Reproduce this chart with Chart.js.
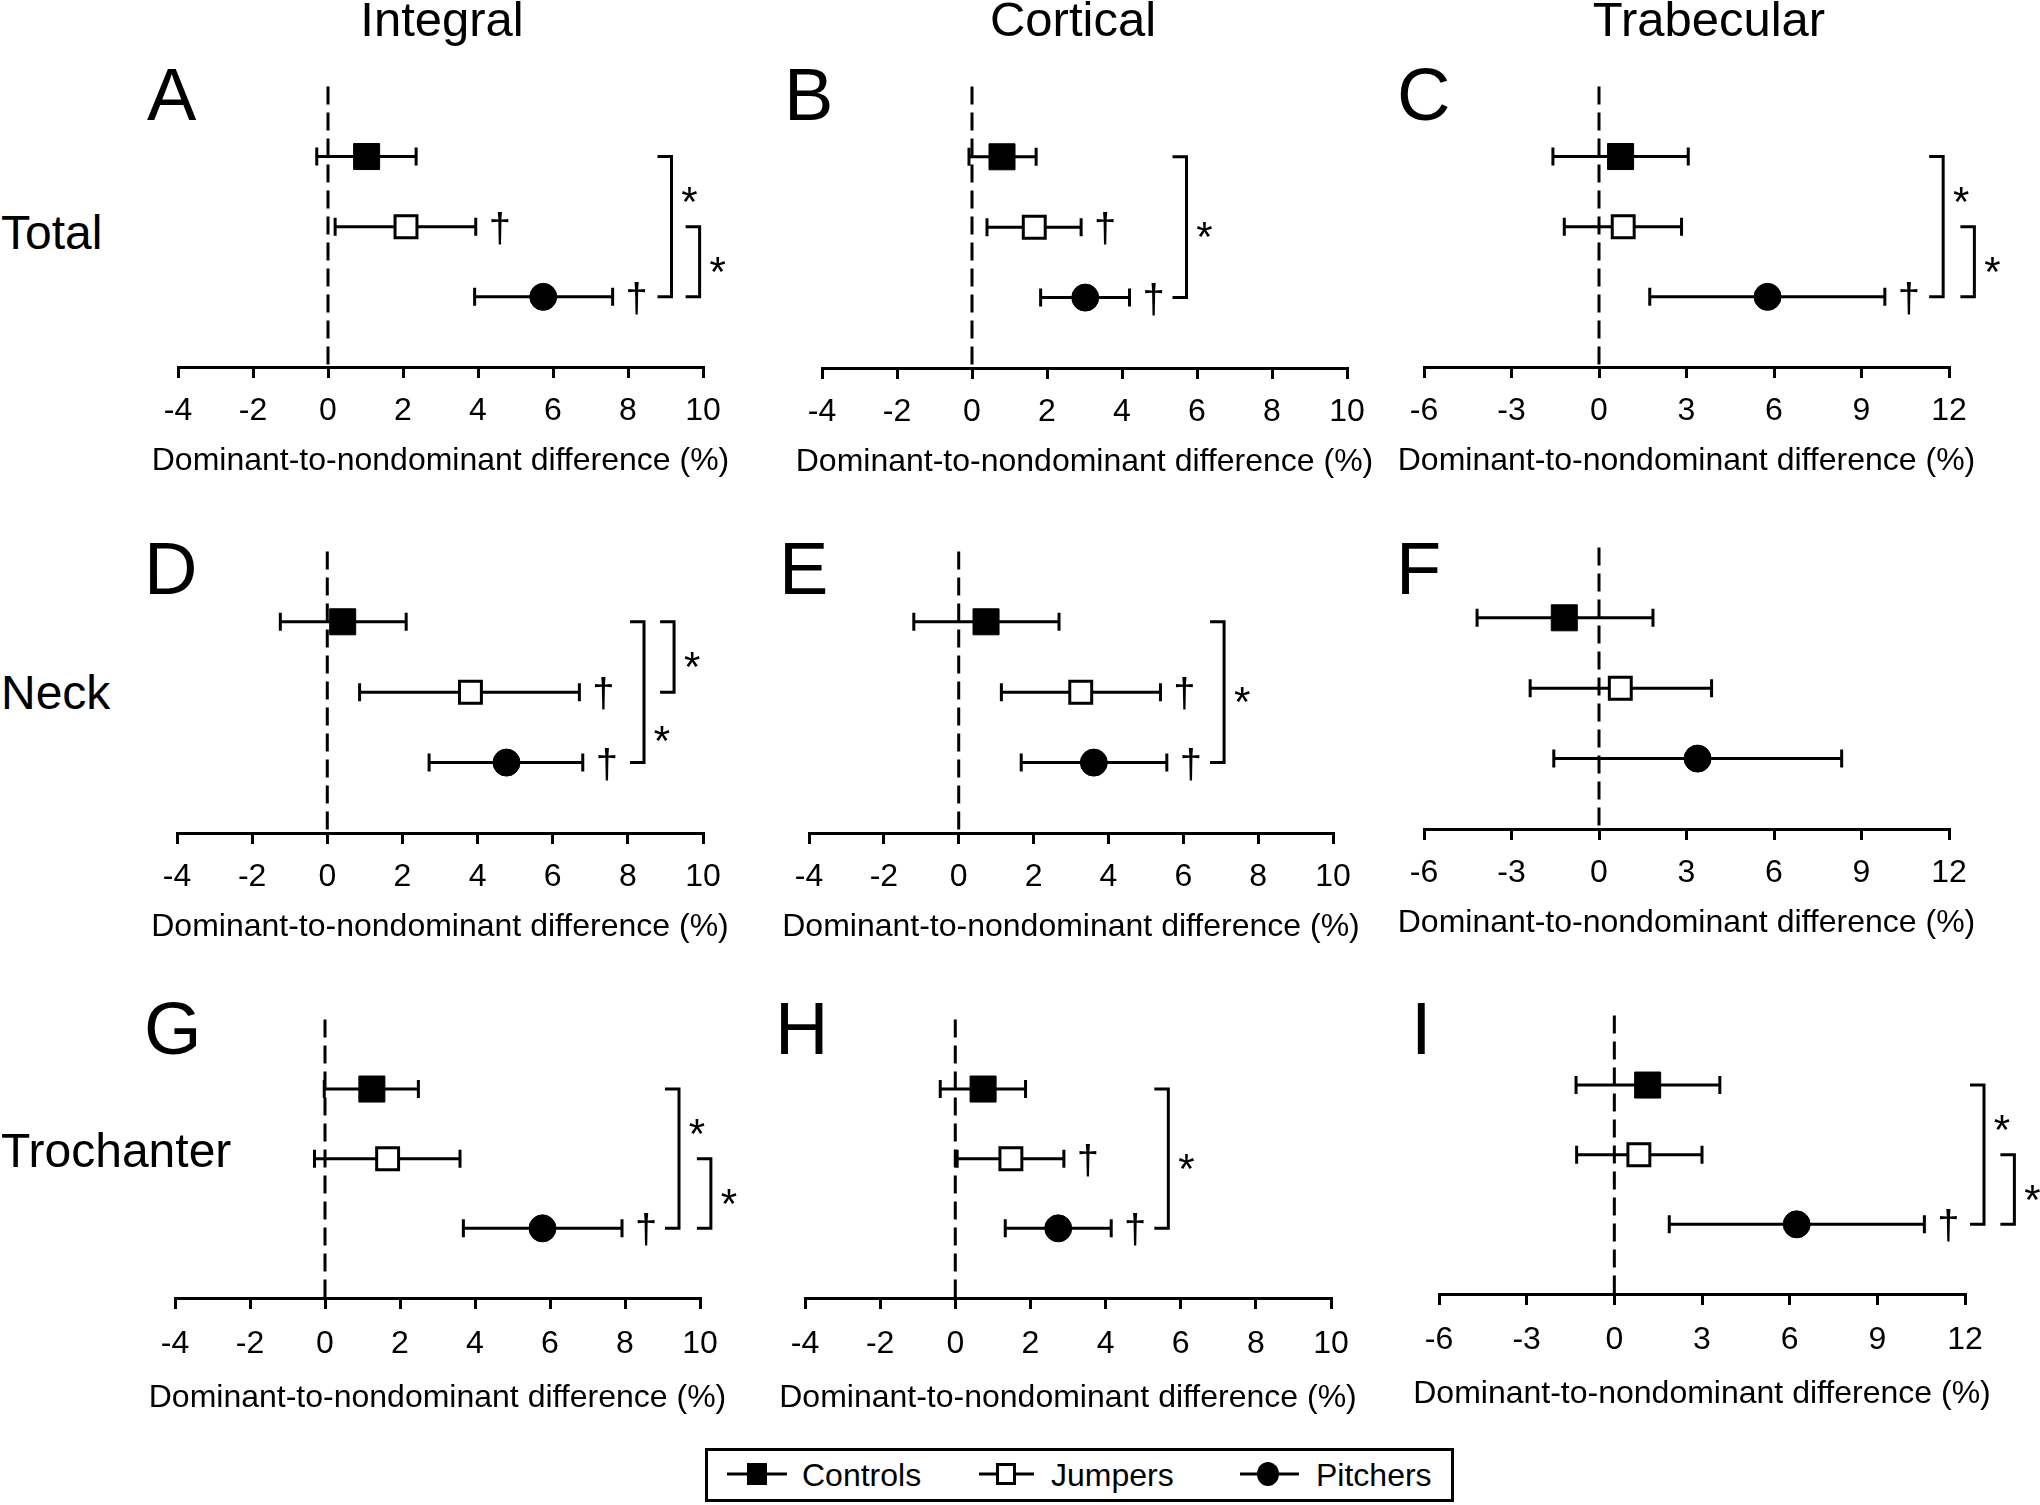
<!DOCTYPE html>
<html>
<head>
<meta charset="utf-8">
<script src="https://cdn.jsdelivr.net/npm/chart.js@4.4.1/dist/chart.umd.min.js"></script>
<style>
  body { margin: 0; width: 2040px; height: 1505px; overflow: hidden; background: #fff; position: relative;
         font-family: "Liberation Sans", Arial, Helvetica, sans-serif; }
  canvas { position: absolute; }
  .lbl { position: absolute; color: #000; white-space: nowrap; line-height: 1; }
  #legend { position: absolute; left: 705px; top: 1448px; width: 749px; height: 54px; border: 3px solid #000; box-sizing: border-box; }
  #legendIcons { position: absolute; left: 0; top: 0; }
</style>
</head>
<body>
<div id="legend"></div>
<svg id="legendIcons" width="2040" height="1505"></svg>
<script>
const FONT = '"Liberation Sans", Arial, Helvetica, sans-serif';

// groups (rows of every panel, top to bottom)
const groups = ['Controls', 'Jumpers', 'Pitchers'];
const ticksPct = [-4, -2, 0, 2, 4, 6, 8, 10];
const ticksTrab = [-6, -3, 0, 3, 6, 9, 12];
const axisTitle = 'Dominant-to-nondominant difference (%)';

// A  Integral - Total
const intTotMean = [1.03, 2.08, 5.74];
const intTotLow  = [-0.30, 0.19, 3.91];
const intTotHigh = [2.35, 3.94, 7.59];
const intTotSig  = [false, true, true];
// B  Cortical - Total
const corTotMean = [0.80, 1.66, 3.02];
const corTotLow  = [-0.08, 0.40, 1.83];
const corTotHigh = [1.71, 2.91, 4.20];
const corTotSig  = [false, true, true];
// C  Trabecular - Total
const traTotMean = [0.74, 0.83, 5.78];
const traTotLow  = [-1.58, -1.19, 1.74];
const traTotHigh = [3.06, 2.83, 9.80];
const traTotSig  = [false, false, true];
// D  Integral - Neck
const intNeckMean = [0.41, 3.81, 4.77];
const intNeckLow  = [-1.25, 0.86, 2.71];
const intNeckHigh = [2.10, 6.71, 6.80];
const intNeckSig  = [false, true, true];
// E  Cortical - Neck
const corNeckMean = [0.73, 3.26, 3.61];
const corNeckLow  = [-1.20, 1.14, 1.67];
const corNeckHigh = [2.68, 5.39, 5.56];
const corNeckSig  = [false, true, true];
// F  Trabecular - Neck
const traNeckMean = [-1.19, 0.73, 3.38];
const traNeckLow  = [-4.18, -2.36, -1.55];
const traNeckHigh = [1.85, 3.86, 8.32];
const traNeckSig  = [false, false, false];
// G  Integral - Trochanter
const intTrocMean = [1.25, 1.67, 5.80];
const intTrocLow  = [-0.02, -0.28, 3.69];
const intTrocHigh = [2.49, 3.60, 7.92];
const intTrocSig  = [false, false, true];
// H  Cortical - Trochanter
const corTrocMean = [0.74, 1.48, 2.74];
const corTrocLow  = [-0.40, 0.05, 1.33];
const corTrocHigh = [1.87, 2.89, 4.15];
const corTrocSig  = [false, true, true];
// I  Trabecular - Trochanter
const traTrocMean = [1.14, 0.84, 6.24];
const traTrocLow  = [-1.31, -1.29, 1.88];
const traTrocHigh = [3.61, 3.00, 10.61];
const traTrocSig  = [false, false, true];

// group comparison brackets: rows (1 = Controls .. 3 = Pitchers), x in axis units
const panels = [
  { letter: 'A', mean: intTotMean, low: intTotLow, high: intTotHigh, sig: intTotSig, ticks: ticksPct,
    area: [178, 77, 703, 367], titleGap: 103, brackets: [{ from: 1, to: 3, x: 9.16, star: 1.5 }, { from: 2, to: 3, x: 9.91, star: 2.5 }] },
  { letter: 'B', mean: corTotMean, low: corTotLow, high: corTotHigh, sig: corTotSig, ticks: ticksPct,
    area: [822, 77, 1347, 368], titleGap: 103, brackets: [{ from: 1, to: 3, x: 5.72, star: 2 }] },
  { letter: 'C', mean: traTotMean, low: traTotLow, high: traTotHigh, sig: traTotSig, ticks: ticksTrab,
    area: [1424, 77, 1949, 367], titleGap: 103, brackets: [{ from: 1, to: 3, x: 11.80, star: 1.5 }, { from: 2, to: 3, x: 12.87, star: 2.5 }] },
  { letter: 'D', mean: intNeckMean, low: intNeckLow, high: intNeckHigh, sig: intNeckSig, ticks: ticksPct,
    area: [177, 542, 703, 833], titleGap: 103, brackets: [{ from: 1, to: 3, x: 8.43, star: 2.55 }, { from: 1, to: 2, x: 9.23, star: 1.5 }] },
  { letter: 'E', mean: corNeckMean, low: corNeckLow, high: corNeckHigh, sig: corNeckSig, ticks: ticksPct,
    area: [809, 542, 1333, 833], titleGap: 103, brackets: [{ from: 1, to: 3, x: 7.09, star: 2 }] },
  { letter: 'F', mean: traNeckMean, low: traNeckLow, high: traNeckHigh, sig: traNeckSig, ticks: ticksTrab,
    area: [1424, 538, 1949, 829], titleGap: 103, brackets: [] },
  { letter: 'G', mean: intTrocMean, low: intTrocLow, high: intTrocHigh, sig: intTrocSig, ticks: ticksPct,
    area: [175, 1010, 700, 1298], titleGap: 109, brackets: [{ from: 1, to: 3, x: 9.44, star: 1.5 }, { from: 2, to: 3, x: 10.29, star: 2.5 }] },
  { letter: 'H', mean: corTrocMean, low: corTrocLow, high: corTrocHigh, sig: corTrocSig, ticks: ticksPct,
    area: [805, 1010, 1331, 1298], titleGap: 109, brackets: [{ from: 1, to: 3, x: 5.67, star: 2 }] },
  { letter: 'I', mean: traTrocMean, low: traTrocLow, high: traTrocHigh, sig: traTrocSig, ticks: ticksTrab,
    area: [1439, 1006, 1965, 1294], titleGap: 109, brackets: [{ from: 1, to: 3, x: 12.65, star: 1.5 }, { from: 2, to: 3, x: 13.69, star: 2.5 }] }
];

const markerStyles = [
  { pointStyle: 'rect', pointRadius: 18.4, backgroundColor: '#000', borderColor: '#000', borderWidth: 1 },
  { pointStyle: 'rect', pointRadius: 15.5, backgroundColor: '#fff', borderColor: '#000', borderWidth: 3 },
  { pointStyle: 'circle', pointRadius: 13.5, backgroundColor: '#000', borderColor: '#000', borderWidth: 1 }
];

Chart.defaults.font.family = FONT;
Chart.defaults.color = '#000';

// zero line, error bars, daggers, brackets, stars and the axis title
const forestMarks = {
  id: 'forestMarks',
  beforeDatasetsDraw(chart) {
    const { ctx, chartArea, scales: { x } } = chart;
    ctx.save();
    ctx.strokeStyle = '#000';
    ctx.lineWidth = 3;
    ctx.setLineDash([18, 8]);
    const x0 = x.getPixelForValue(0);
    ctx.beginPath();
    ctx.moveTo(x0, chartArea.top);
    ctx.lineTo(x0, chartArea.bottom);
    ctx.stroke();
    ctx.setLineDash([]);
    chart.data.datasets.forEach((ds, i) => {
      chart.getDatasetMeta(i).data.forEach((pt, j) => {
        const lo = x.getPixelForValue(ds.low[j]);
        const hi = x.getPixelForValue(ds.high[j]);
        ctx.beginPath();
        ctx.moveTo(lo, pt.y); ctx.lineTo(hi, pt.y);
        ctx.moveTo(lo, pt.y - 9); ctx.lineTo(lo, pt.y + 9);
        ctx.moveTo(hi, pt.y - 9); ctx.lineTo(hi, pt.y + 9);
        ctx.stroke();
      });
    });
    ctx.restore();
  },
  afterDatasetsDraw(chart, args, opts) {
    const { ctx, chartArea, scales: { x, y } } = chart;
    ctx.save();
    ctx.fillStyle = '#000';
    ctx.strokeStyle = '#000';
    ctx.lineWidth = 3;
    ctx.textAlign = 'center';
    ctx.textBaseline = 'alphabetic';
    ctx.font = '40px ' + FONT;
    chart.data.datasets.forEach((ds, i) => {
      chart.getDatasetMeta(i).data.forEach((pt, j) => {
        if (ds.sig[j]) ctx.fillText('\u2020', x.getPixelForValue(ds.high[j]) + 24, pt.y + 15);
      });
    });
    ctx.font = '42px ' + FONT;
    (opts.brackets || []).forEach(b => {
      const bx = x.getPixelForValue(b.x);
      const y1 = y.getPixelForValue(b.from);
      const y2 = y.getPixelForValue(b.to);
      ctx.beginPath();
      ctx.moveTo(bx - 14, y1); ctx.lineTo(bx, y1); ctx.lineTo(bx, y2); ctx.lineTo(bx - 14, y2);
      ctx.stroke();
      ctx.fillText('*', bx + 18, y.getPixelForValue(b.star) + 24);
    });
    // axis title, wider than the axis itself
    ctx.font = '32px ' + FONT;
    ctx.fillText(axisTitle, (chartArea.left + chartArea.right) / 2, chartArea.bottom + opts.titleGap);
    ctx.restore();
  }
};

const PAD_L = 40, PAD_R = 95, PAD_T = 10, AXIS_H = 124;

panels.forEach(p => {
  const [L, T, R, B] = p.area;
  const w = R - L + PAD_L + PAD_R;
  const h = B - T + PAD_T + AXIS_H;
  const cv = document.createElement('canvas');
  cv.width = w; cv.height = h;
  cv.style.left = (L - PAD_L) + 'px';
  cv.style.top = (T - PAD_T) + 'px';
  cv.style.width = w + 'px';
  cv.style.height = h + 'px';
  document.body.appendChild(cv);

  new Chart(cv, {
    type: 'scatter',
    data: {
      datasets: groups.map((g, i) => Object.assign({
        label: g,
        data: [{ x: p.mean[i], y: g }],
        low: [p.low[i]],
        high: [p.high[i]],
        sig: [p.sig[i]]
      }, markerStyles[i]))
    },
    options: {
      responsive: false,
      animation: false,
      devicePixelRatio: 1,
      events: [],
      layout: { padding: { left: PAD_L, right: PAD_R, top: PAD_T, bottom: 0 } },
      scales: {
        x: {
          type: 'linear',
          min: p.ticks[0],
          max: p.ticks[p.ticks.length - 1],
          afterBuildTicks: s => { s.ticks = p.ticks.map(v => ({ value: v })); },
          afterFit: s => { s.height = AXIS_H; },
          grid: { drawOnChartArea: false, drawTicks: true, tickLength: 11, lineWidth: 3, color: '#000' },
          border: { display: true, color: '#000', width: 3 },
          ticks: { color: '#000', font: { family: FONT, size: 32 }, padding: p.titleGap > 103 ? 16 : 14, maxRotation: 0, autoSkip: false },
          title: { display: false, text: axisTitle }
        },
        y: {
          type: 'category',
          labels: ['', ...groups, ' '],
          display: false
        }
      },
      plugins: {
        legend: { display: false },
        tooltip: { enabled: false },
        forestMarks: { brackets: p.brackets, titleGap: p.titleGap }
      }
    },
    plugins: [forestMarks]
  });
});

// text around the panels
function addText(txt, x, baseline, size, center) {
  const d = document.createElement('div');
  d.className = 'lbl';
  d.textContent = txt;
  d.style.fontSize = size + 'px';
  d.style.top = (baseline - 0.8465 * size) + 'px';
  d.style.left = x + 'px';
  if (center) d.style.transform = 'translateX(-50%)';
  document.body.appendChild(d);
}

const colHeaders = ['Integral', 'Cortical', 'Trabecular'];
const colCenters = [442, 1073, 1709];
colHeaders.forEach((t, i) => addText(t, colCenters[i], 36, 49, true));

const rowHeaders = ['Total', 'Neck', 'Trochanter'];
const rowBaselines = [250, 710, 1168];
rowHeaders.forEach((t, i) => addText(t, 1, rowBaselines[i], 48, false));

const letterPos = [[147, 121], [784, 121], [1397, 121], [144, 595], [779, 595], [1396, 595], [144, 1055], [775, 1055], [1411, 1055]];
panels.forEach((p, i) => addText(p.letter, letterPos[i][0], letterPos[i][1], 74, false));

// legend
const legendX = [802, 1051, 1316];
groups.forEach((g, i) => addText(g, legendX[i], 1486, 32, false));
const svg = document.getElementById('legendIcons');
svg.innerHTML =
  '<line x1="727" y1="1474" x2="787" y2="1474" stroke="#000" stroke-width="3"/>' +
  '<rect x="747" y="1463" width="20" height="22" fill="#000"/>' +
  '<line x1="979" y1="1474" x2="1034" y2="1474" stroke="#000" stroke-width="3"/>' +
  '<rect x="997.5" y="1464.5" width="17" height="19" fill="#fff" stroke="#000" stroke-width="3"/>' +
  '<line x1="1240" y1="1474" x2="1299" y2="1474" stroke="#000" stroke-width="3"/>' +
  '<ellipse cx="1268" cy="1474" rx="11" ry="12" fill="#000"/>';
</script>
</body>
</html>
